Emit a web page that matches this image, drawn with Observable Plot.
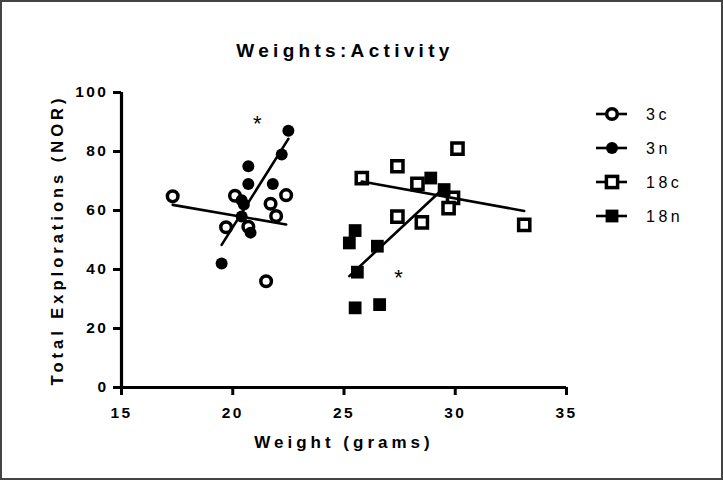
<!DOCTYPE html>
<html><head><meta charset="utf-8">
<script src="https://cdn.jsdelivr.net/npm/d3@7"></script>
<script src="https://cdn.jsdelivr.net/npm/@observablehq/plot@0.6"></script>
<style>
body{margin:0;background:#fff;}
#wrap{position:relative;width:723px;height:480px;font-family:"Liberation Sans",Arial,sans-serif;outline:2px solid #444;outline-offset:-2px;}
#title{position:absolute;top:40px;left:345px;transform:translateX(-50%);white-space:nowrap;font-weight:bold;font-size:19px;letter-spacing:4.3px;color:#000;}
#legend{position:absolute;left:0;top:0;pointer-events:none;}
</style></head>
<body>
<div id="wrap"><div id="title">Weights:Activity</div></div>
<script>
// ---- data ----
const xTicks = [15, 20, 25, 30, 35];
const yTicks = [0, 20, 40, 60, 80, 100];
const seriesNames = ["3c", "3n", "18c", "18n"];

const x3c = [17.3, 20.1, 22.4, 21.7, 21.95, 19.7, 20.7, 21.5];
const y3c = [64.8, 65.0, 65.2, 62.3, 58.1, 54.3, 54.5, 36.0];

const x3n = [22.5, 22.2, 20.7, 20.7, 21.8, 20.4, 20.5, 20.4, 20.8, 19.5];
const y3n = [87.0, 79.0, 75.0, 69.0, 69.0, 63.5, 62.0, 58.0, 52.5, 42.0];

const x18c = [25.8, 27.4, 30.1, 28.3, 29.9, 29.7, 27.4, 28.5, 33.1];
const y18c = [71.0, 75.0, 81.0, 69.0, 64.3, 60.8, 57.9, 56.0, 55.1];

const x18n = [28.9, 29.5, 25.5, 25.24, 26.5, 25.6, 25.5, 26.6];
const y18n = [71.0, 67.1, 53.2, 49.0, 47.9, 39.1, 27.0, 28.1];

const starX = [21.1, 27.45];
const starY = [90.5, 38.0];

const toRows = (xs, ys, g) => xs.map((x, i) => ({x, y: ys[i], g}));
const d3c = toRows(x3c, y3c, "3c");
const d3n = toRows(x3n, y3n, "3n");
const d18c = toRows(x18c, y18c, "18c");
const d18n = toRows(x18n, y18n, "18n");
const stars = starX.map((x, i) => ({x, y: starY[i]}));

const font = '"Liberation Sans", Arial, sans-serif';

const chart = Plot.plot({
  width: 723, height: 480,
  marginLeft: 121, marginRight: 157, marginTop: 92, marginBottom: 93,
  style: {fontFamily: font, background: "transparent", color: "#000", overflow: "visible"},
  x: {domain: [15, 35], ticks: xTicks},
  y: {domain: [0, 100], ticks: yTicks},
  marks: [
    Plot.axisX({ticks: xTicks, tickSize: 8, tickPadding: 11, fontSize: 15.5, fontWeight: "bold", strokeWidth: 3, label: null}),
    Plot.axisY({ticks: yTicks, tickSize: 8, tickPadding: 5, fontSize: 15.5, fontWeight: "bold", strokeWidth: 3, label: null}),
    Plot.ruleY([0], {x1: 15, x2: 35, strokeWidth: 3.2}),
    Plot.ruleX([15], {y1: 0, y2: 100, strokeWidth: 3.2}),
    Plot.dot(d3c, {x: "x", y: "y", r: 5.3, fill: "white", stroke: "black", strokeWidth: 3.5}),
    Plot.dot(d3n, {x: "x", y: "y", r: 6, fill: "black", stroke: "none"}),
    Plot.dot(d18c, {x: "x", y: "y", symbol: "square", r: 6.3, fill: "white", stroke: "black", strokeWidth: 3.5}),
    Plot.dot(d18n, {x: "x", y: "y", symbol: "square", r: 7.2, fill: "black", stroke: "none"}),
    Plot.linearRegressionY(d3c, {x: "x", y: "y", ci: 0, stroke: "black", strokeWidth: 2.6}),
    Plot.linearRegressionY(d3n, {x: "x", y: "y", ci: 0, stroke: "black", strokeWidth: 2.6}),
    Plot.linearRegressionY(d18c, {x: "x", y: "y", ci: 0, stroke: "black", strokeWidth: 2.6}),
    Plot.linearRegressionY(d18n, {x: "x", y: "y", ci: 0, stroke: "black", strokeWidth: 2.6}),
    Plot.text(stars, {x: "x", y: "y", text: () => "*", fontSize: 22, dy: 3, fill: "black"}),
    Plot.text(["Total Explorations (NOR)"], {frameAnchor: "left", textAnchor: "middle", dx: -64, rotate: -90, fontSize: 16.5, fontWeight: "bold", fill: "black", className: "ylab"}),
    Plot.text(["Weight (grams)"], {frameAnchor: "bottom", dy: 60, fontSize: 17, fontWeight: "bold", fill: "black", className: "xlab"})
  ]
});

const wrap = document.getElementById("wrap");
wrap.appendChild(chart);
const svgSel = d3.select(chart);
svgSel.selectAll('[aria-label="x-axis tick label"] text, [aria-label="y-axis tick label"] text').style("letter-spacing", "2.5px");
svgSel.selectAll('.ylab text, .xlab text').style("letter-spacing", "4px");

// ---- legend (custom, built with d3) ----
const legendY = [114, 148, 182, 216];
const lg = d3.select(wrap).append("svg").attr("id", "legend").attr("width", 723).attr("height", 480);
seriesNames.forEach((name, i) => {
  const g = lg.append("g").attr("transform", `translate(0,${legendY[i]})`);
  g.append("line").attr("x1", 596).attr("x2", 627).attr("stroke", "black").attr("stroke-width", 2.6);
  if (name === "3c") g.append("circle").attr("cx", 612).attr("r", 5.3).attr("fill", "white").attr("stroke", "black").attr("stroke-width", 3.5);
  if (name === "3n") g.append("circle").attr("cx", 612).attr("r", 6).attr("fill", "black");
  if (name === "18c") g.append("rect").attr("x", 606.4).attr("y", -5.6).attr("width", 11.2).attr("height", 11.2).attr("fill", "white").attr("stroke", "black").attr("stroke-width", 3.5);
  if (name === "18n") g.append("rect").attr("x", 605.6).attr("y", -6.4).attr("width", 12.8).attr("height", 12.8).attr("fill", "black");
  g.append("text").attr("x", 646).attr("dy", "0.36em").attr("font-family", font).attr("font-size", 16).attr("letter-spacing", "3.5px").text(name);
});
</script>
</body></html>
